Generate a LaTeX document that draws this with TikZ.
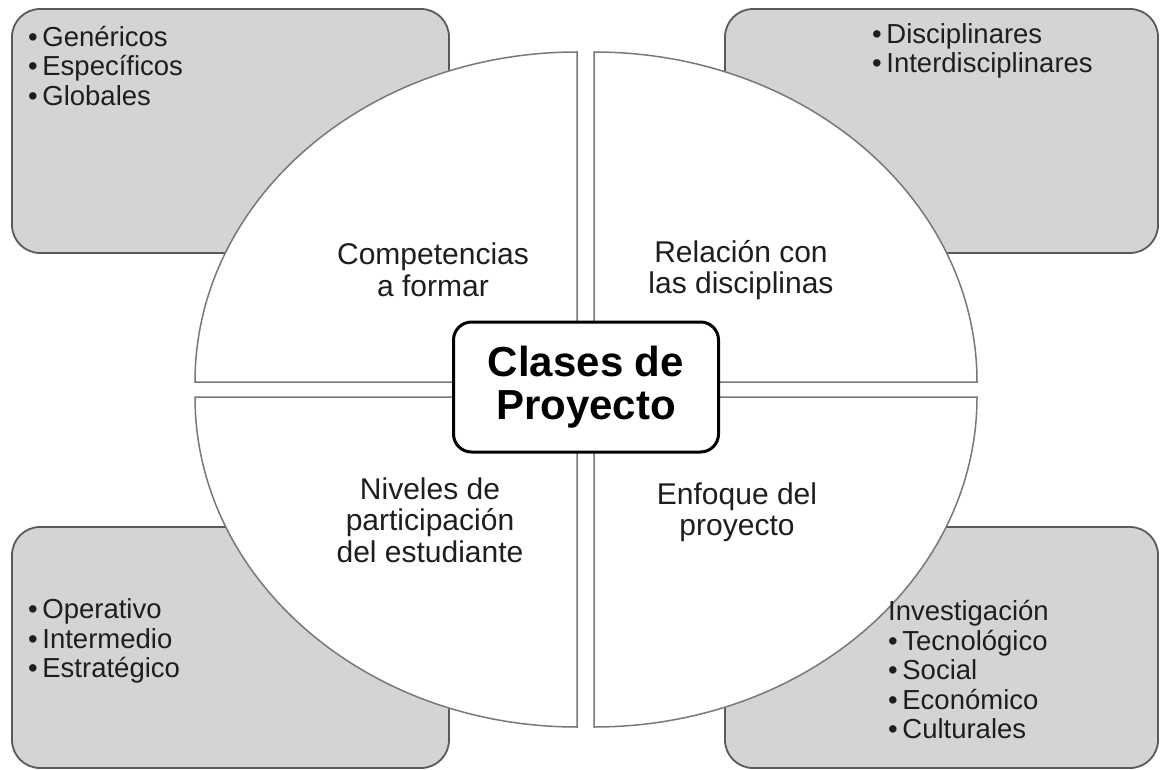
\documentclass[tikz,border=0pt]{standalone}
\usepackage{fontspec}
\setmainfont{Liberation Sans}
\begin{document}
\begin{tikzpicture}[x=1pt,y=-1pt,
  cornerbox/.style={fill=boxgray,draw=boxline,line width=1.8pt,rounded corners=28pt},
  quad/.style={fill=white,draw=quadline,line width=1.5pt},
  qlabel/.style={align=center,text=txt,font=\fontsize{30}{31.5}\selectfont,inner sep=0pt},
  listtxt/.style={align=left,anchor=west,text=txt,font=\fontsize{27.5}{29.5}\selectfont,inner sep=0pt},
  centerbox/.style={fill=white,draw=black,line width=3pt,rounded corners=18pt,minimum width=265pt,minimum height=130pt,
    align=center,font=\fontsize{42}{43}\selectfont\bfseries,text=black}]
\definecolor{boxgray}{RGB}{212,212,212}
\definecolor{boxline}{RGB}{90,90,90}
\definecolor{quadline}{RGB}{120,120,120}
\definecolor{txt}{RGB}{30,30,30}
\useasboundingbox (0,0) rectangle (1161,770);
\fill[white] (0,0) rectangle (1161,770);
% corner boxes
\draw[cornerbox] (12,9) rectangle (449,253);
\draw[cornerbox] (725,9) rectangle (1158,253);
\draw[cornerbox] (12,527) rectangle (449,768);
\draw[cornerbox] (725,527) rectangle (1158,768);
% quadrants
\draw[quad] (577,382) -- (195,382) arc[start angle=180,end angle=90,x radius=382pt,y radius=330pt] -- cycle;
\draw[quad] (594,382) -- (594,52) arc[start angle=90,end angle=0,x radius=383pt,y radius=330pt] -- cycle;
\draw[quad] (577,397) -- (195,397) arc[start angle=180,end angle=270,x radius=382pt,y radius=330pt] -- cycle;
\draw[quad] (594,397) -- (977,397) arc[start angle=0,end angle=-90,x radius=383pt,y radius=330pt] -- cycle;
% center
\node[centerbox] (center) at (586,387) {Clases de\\Proyecto};
% quadrant labels
\node[qlabel] (q1) at (433,270) {Competencias\\a formar};
\node[qlabel] (q2) at (741,270) {Relación con\\las disciplinas};
\node[qlabel] (q3) at (430,520) {Niveles de\\participación\\del estudiante};
\node[qlabel] (q4) at (737,512) {Enfoque del\\proyecto};
% lists
\node[listtxt] (l1) at (28,66) {•\,Genéricos\\•\,Específicos\\•\,Globales};
\node[listtxt] (l2) at (872,51) {•\,Disciplinares\\•\,Interdisciplinares};
\node[listtxt] (l3) at (28,641) {•\,Operativo\\•\,Intermedio\\•\,Estratégico};
\node[listtxt] (l4) at (888,670) {Investigación\\•\,Tecnológico\\•\,Social\\•\,Económico\\•\,Culturales};
\end{tikzpicture}
\end{document}
